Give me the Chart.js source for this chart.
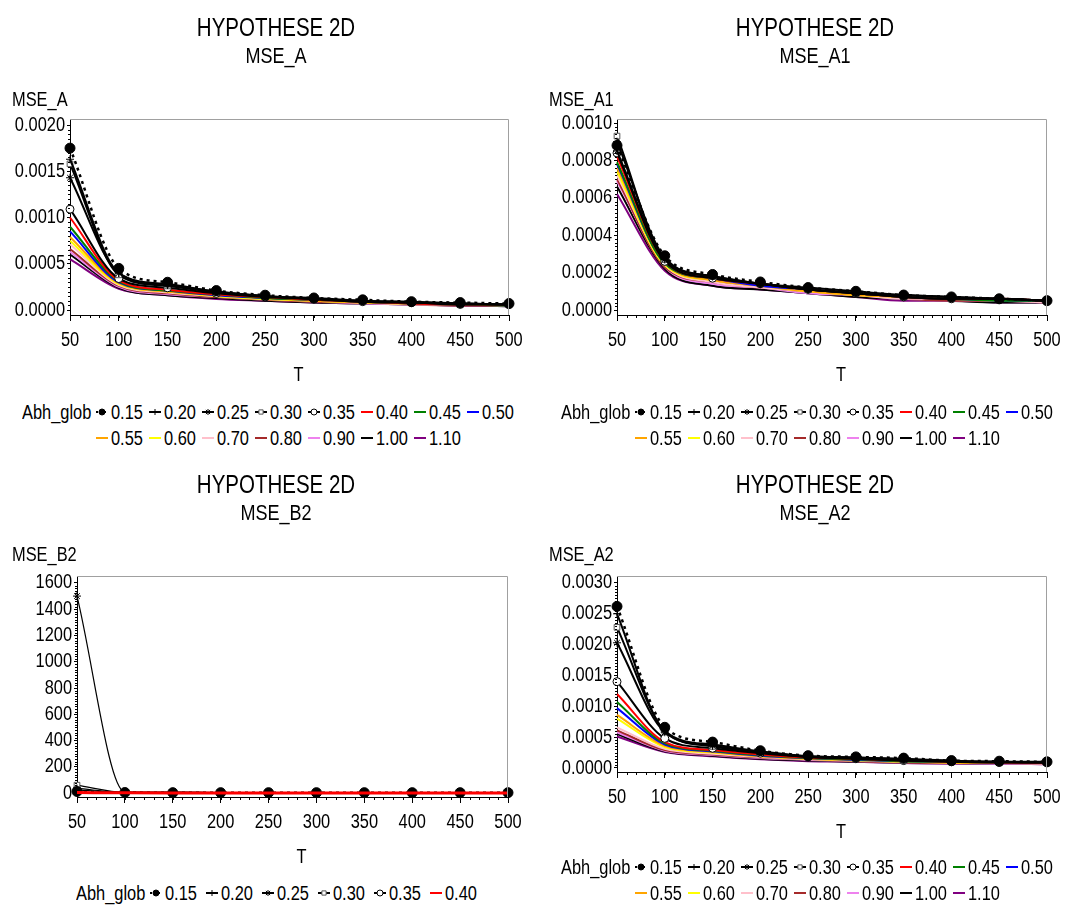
<!DOCTYPE html>
<html>
<head>
<meta charset="utf-8">
<script src="https://cdn.jsdelivr.net/npm/chart.js@4.4.0/dist/chart.umd.min.js"></script>
<style>
    body {
        margin: 0;
        width: 1080px;
        height: 906px;
        overflow: hidden;
        background: #fff;
        position: relative;
        font-family: 'Liberation Sans', Arial, sans-serif;
    }
    canvas.panel { position: absolute; }
    .legend { position: absolute; display: flex; font-size: 20px; line-height: 26px; color: #000; }
    .legend .lab { width: 73px; white-space: nowrap; }
    .legend .items { display: flex; flex-wrap: wrap; }
    .legend .item { display: flex; align-items: center; height: 26px; white-space: nowrap; }
    .legend .item canvas { margin-right: 2px; }
    /* SAS uses a narrow Arial; squeeze the text horizontally */
    .legend .narrow { display: inline-block; transform: scaleX(0.82); transform-origin: left center; }
</style>
</head>
<body>
<script>
// Data (x = T, one row per Abh_glob value)
const T = [50, 100, 150, 200, 250, 300, 350, 400, 450, 500];
const abhGlob = ['0.15', '0.20', '0.25', '0.30', '0.35', '0.40', '0.45', '0.50',
                 '0.55', '0.60', '0.70', '0.80', '0.90', '1.00', '1.10'];

const xTicks = [50, 100, 150, 200, 250, 300, 350, 400, 450, 500];
const yTicksA = [0, 0.0005, 0.0010, 0.0015, 0.0020];
const yTicksA1 = [0, 0.0002, 0.0004, 0.0006, 0.0008, 0.0010];
const yTicksB2 = [0, 200, 400, 600, 800, 1000, 1200, 1400, 1600];
const yTicksA2 = [0, 0.0005, 0.0010, 0.0015, 0.0020, 0.0025, 0.0030];

const mseA = [
    [0.00175, 0.00045, 0.00030, 0.00021, 0.00016, 0.00013, 0.00011, 0.00009, 0.00008, 0.00007], // 0.15
    [0.00163, 0.00040, 0.00027, 0.00020, 0.00015, 0.00013, 0.00010, 0.00009, 0.00007, 0.00006], // 0.20
    [0.00143, 0.00040, 0.00028, 0.00020, 0.00015, 0.00012, 0.00010, 0.00008, 0.00007, 0.00006], // 0.25
    [0.00158, 0.00038, 0.00026, 0.00019, 0.00015, 0.00012, 0.00009, 0.00008, 0.00007, 0.00006], // 0.30
    [0.00109, 0.00034, 0.00024, 0.00018, 0.00014, 0.00012, 0.00009, 0.00008, 0.00006, 0.00006], // 0.35
    [0.00100, 0.00032, 0.00022, 0.00017, 0.00014, 0.00011, 0.00009, 0.00007, 0.00006, 0.00006], // 0.40
    [0.00090, 0.00031, 0.00021, 0.00017, 0.00013, 0.00011, 0.00009, 0.00007, 0.00006, 0.00005], // 0.45
    [0.00085, 0.00030, 0.00021, 0.00016, 0.00013, 0.00011, 0.00009, 0.00007, 0.00006, 0.00005], // 0.50
    [0.00079, 0.00029, 0.00020, 0.00016, 0.00013, 0.00010, 0.00008, 0.00007, 0.00006, 0.00005], // 0.55
    [0.00075, 0.00028, 0.00020, 0.00015, 0.00012, 0.00010, 0.00008, 0.00007, 0.00006, 0.00005], // 0.60
    [0.00071, 0.00027, 0.00019, 0.00015, 0.00012, 0.00010, 0.00008, 0.00006, 0.00006, 0.00005], // 0.70
    [0.00066, 0.00026, 0.00018, 0.00014, 0.00011, 0.00009, 0.00008, 0.00006, 0.00005, 0.00005], // 0.80
    [0.00063, 0.00025, 0.00017, 0.00014, 0.00011, 0.00009, 0.00007, 0.00006, 0.00005, 0.00005], // 0.90
    [0.00060, 0.00024, 0.00016, 0.00013, 0.00010, 0.00008, 0.00007, 0.00006, 0.00005, 0.00004], // 1.00
    [0.00055, 0.00023, 0.00016, 0.00012, 0.00010, 0.00008, 0.00007, 0.00006, 0.00005, 0.00004]  // 1.10
];

const mseA1 = [
    [0.00088, 0.00029, 0.00019, 0.00015, 0.00012, 0.00010, 0.00008, 0.00007, 0.00006, 0.00005],
    [0.00090, 0.00028, 0.00018, 0.00014, 0.00012, 0.00010, 0.00008, 0.00007, 0.00006, 0.00005],
    [0.00085, 0.00027, 0.00018, 0.00014, 0.00011, 0.00009, 0.00008, 0.00007, 0.00006, 0.00005],
    [0.00093, 0.00027, 0.00018, 0.00014, 0.00011, 0.00009, 0.00007, 0.00006, 0.00006, 0.00005],
    [0.00084, 0.00026, 0.00017, 0.00014, 0.00011, 0.00009, 0.00007, 0.00006, 0.00006, 0.00005],
    [0.00082, 0.00026, 0.00017, 0.00014, 0.00011, 0.00009, 0.00007, 0.00006, 0.00006, 0.00005],
    [0.00079, 0.00025, 0.00017, 0.00014, 0.00011, 0.00009, 0.00007, 0.00006, 0.00005, 0.00005],
    [0.00078, 0.00025, 0.00017, 0.00013, 0.00011, 0.00009, 0.00007, 0.00006, 0.00005, 0.00005],
    [0.00076, 0.00025, 0.00016, 0.00013, 0.00010, 0.00008, 0.00007, 0.00006, 0.00005, 0.00005],
    [0.00074, 0.00024, 0.00016, 0.00013, 0.00010, 0.00008, 0.00007, 0.00006, 0.00005, 0.00005],
    [0.00072, 0.00024, 0.00015, 0.00012, 0.00010, 0.00008, 0.00006, 0.00006, 0.00005, 0.00004],
    [0.00070, 0.00023, 0.00015, 0.00012, 0.00010, 0.00008, 0.00006, 0.00005, 0.00005, 0.00004],
    [0.00069, 0.00023, 0.00014, 0.00012, 0.00009, 0.00008, 0.00006, 0.00005, 0.00005, 0.00004],
    [0.00066, 0.00022, 0.00013, 0.00011, 0.00009, 0.00007, 0.00006, 0.00005, 0.00004, 0.00004],
    [0.00062, 0.00021, 0.00013, 0.00011, 0.00009, 0.00007, 0.00005, 0.00005, 0.00004, 0.00004]
];

// MSE_B2 only carries the first six Abh_glob values
const mseB2 = [
    [12, 4, 3, 3, 3, 3, 3, 3, 3, 3],
    [35, 6, 10, 4, 3, 3, 3, 3, 3, 3],
    [1500, 8, 4, 3, 3, 3, 3, 3, 3, 3],
    [60, 5, 4, 3, 3, 3, 3, 3, 3, 3],
    [25, 5, 4, 3, 3, 3, 3, 3, 3, 3],
    [4, 2, 1, 1, 1, 1, 1, 1, 1, 1]
];

const mseA2 = [
    [0.00262, 0.00066, 0.00042, 0.00028, 0.00020, 0.00018, 0.00016, 0.00012, 0.00011, 0.00010],
    [0.00250, 0.00060, 0.00038, 0.00027, 0.00019, 0.00017, 0.00015, 0.00012, 0.00010, 0.00010],
    [0.00203, 0.00058, 0.00036, 0.00026, 0.00019, 0.00017, 0.00014, 0.00011, 0.00010, 0.00009],
    [0.00228, 0.00060, 0.00035, 0.00026, 0.00018, 0.00016, 0.00012, 0.00011, 0.00010, 0.00009],
    [0.00140, 0.00048, 0.00032, 0.00024, 0.00018, 0.00015, 0.00012, 0.00010, 0.00009, 0.00009],
    [0.00120, 0.00042, 0.00029, 0.00022, 0.00017, 0.00015, 0.00012, 0.00010, 0.00009, 0.00008],
    [0.00107, 0.00040, 0.00028, 0.00021, 0.00016, 0.00014, 0.00011, 0.00010, 0.00009, 0.00008],
    [0.00097, 0.00038, 0.00027, 0.00020, 0.00016, 0.00013, 0.00011, 0.00010, 0.00009, 0.00008],
    [0.00086, 0.00036, 0.00026, 0.00019, 0.00015, 0.00013, 0.00011, 0.00009, 0.00008, 0.00008],
    [0.00080, 0.00034, 0.00025, 0.00019, 0.00015, 0.00012, 0.00010, 0.00009, 0.00008, 0.00008],
    [0.00066, 0.00031, 0.00023, 0.00018, 0.00014, 0.00012, 0.00010, 0.00009, 0.00008, 0.00007],
    [0.00061, 0.00029, 0.00022, 0.00017, 0.00014, 0.00011, 0.00009, 0.00008, 0.00008, 0.00007],
    [0.00058, 0.00028, 0.00021, 0.00016, 0.00013, 0.00011, 0.00009, 0.00008, 0.00007, 0.00007],
    [0.00055, 0.00027, 0.00020, 0.00015, 0.00012, 0.00010, 0.00009, 0.00008, 0.00007, 0.00007],
    [0.00051, 0.00026, 0.00019, 0.00014, 0.00011, 0.00010, 0.00008, 0.00007, 0.00007, 0.00006]
];

// Series styling (SAS default symbol set)
const lineColors = ['#000000', '#000000', '#000000', '#000000', '#000000', '#ff0000', '#008000', '#0000ff',
                    '#ffa500', '#ffff00', '#ffc0cb', '#a52a2a', '#ee82ee', '#000000', '#800080'];
const markers = ['circle', 'cross', 'star', 'rect', 'circle'];

const FONT = "'Liberation Sans', Arial, sans-serif";
const SQUEEZE = 0.82;

// No Arial Narrow in the sandbox: compress canvas text around its anchor point
const baseFillText = CanvasRenderingContext2D.prototype.fillText;
const baseMeasureText = CanvasRenderingContext2D.prototype.measureText;
CanvasRenderingContext2D.prototype.fillText = function (text, x, y, maxWidth) {
    this.save();
    this.translate(x, y);
    this.scale(SQUEEZE, 1);
    baseFillText.call(this, text, 0, 0);
    this.restore();
};
CanvasRenderingContext2D.prototype.measureText = function (text) {
    const m = baseMeasureText.call(this, text);
    return {
        width: m.width * SQUEEZE,
        actualBoundingBoxAscent: m.actualBoundingBoxAscent,
        actualBoundingBoxDescent: m.actualBoundingBoxDescent
    };
};

// yW = left axis width, rW = empty right axis width (keeps the titles centred like SAS)
const panels = [
    { sub: 'MSE_A', values: mseA, yTicks: yTicksA, yMin: -0.000054, yMax: 0.002065, dec: 4, b2: false,
      left: 0, top: 0, w: 552, h: 390, padL: 0, yW: 70, rW: 43, yLabX: 12, yLabY: 100,
      legend: { left: 22, top: 399, cols: 8, itemW: 53 } },
    { sub: 'MSE_A1', values: mseA1, yTicks: yTicksA1, yMin: -0.0000267, yMax: 0.0010214, dec: 4, b2: false,
      left: 540, top: 0, w: 540, h: 390, padL: 10, yW: 67, rW: 33, yLabX: 9, yLabY: 100,
      legend: { left: 561, top: 399, cols: 8, itemW: 53 } },
    { sub: 'MSE_B2', values: mseB2, yTicks: yTicksB2, yMin: -30, yMax: 1653, dec: 0, b2: true,
      left: 0, top: 457, w: 552, h: 415, padL: 0, yW: 77, rW: 44, yLabX: 12, yLabY: 98,
      legend: { left: 76, top: 880, cols: 6, itemW: 56 } },
    { sub: 'MSE_A2', values: mseA2, yTicks: yTicksA2, yMin: -0.000065, yMax: 0.003113, dec: 4, b2: false,
      left: 540, top: 457, w: 540, h: 390, padL: 10, yW: 67, rW: 33, yLabX: 9, yLabY: 98,
      legend: { left: 561, top: 854, cols: 8, itemW: 53 } }
];

function seriesStyle(i, thin) {
    const style = {
        borderColor: lineColors[i],
        backgroundColor: lineColors[i],
        borderWidth: 2,
        pointRadius: 0,
        cubicInterpolationMode: 'monotone'
    };
    if (i < 5) {
        style.pointStyle = markers[i];
        style.pointRadius = i === 0 ? 5 : 4;
        style.pointBorderColor = i === 3 ? '#555' : '#000';
        style.pointBackgroundColor = i === 0 ? '#000' : '#fff';
        style.pointBorderWidth = 1;
        style.borderWidth = i === 0 ? 2.5 : (thin ? 1.2 : 2);
        if (i === 0) style.borderDash = [3, 4];
    }
    if (i === 5 && thin) style.borderWidth = 3;
    return style;
}

// gray frame, minor ticks, horizontal y label and the T axis label
const framePlugin = {
    id: 'frame',
    afterDraw(chart, args, opts) {
        const { ctx, chartArea: a, scales: { x, y } } = chart;
        ctx.save();
        ctx.strokeStyle = '#a0a0a0';
        ctx.lineWidth = 1;
        ctx.beginPath();
        ctx.moveTo(a.left, a.top + 0.5);
        ctx.lineTo(a.right - 0.5, a.top + 0.5);
        ctx.lineTo(a.right - 0.5, a.bottom);
        ctx.stroke();

        ctx.strokeStyle = '#000';
        ctx.beginPath();
        for (let v = 50; v <= 500; v += 10) {
            const px = Math.round(x.getPixelForValue(v)) + 0.5;
            ctx.moveTo(px, a.bottom);
            ctx.lineTo(px, a.bottom + 3);
        }
        const yt = opts.yTicks;
        for (let k = 0; k < yt.length - 1; k++) {
            const step = (yt[k + 1] - yt[k]) / 10;
            for (let j = 1; j < 10; j++) {
                const py = Math.round(y.getPixelForValue(yt[k] + step * j)) + 0.5;
                ctx.moveTo(a.left, py);
                ctx.lineTo(a.left - 2, py);
            }
        }
        ctx.stroke();

        ctx.fillStyle = '#000';
        ctx.font = '20px ' + FONT;
        ctx.textBaseline = 'middle';
        ctx.textAlign = 'left';
        ctx.fillText(opts.yLab, opts.yLabX, opts.yLabY);
        ctx.textAlign = 'center';
        ctx.fillText('T', (a.left + a.right) / 2 + 9, a.bottom + 60);
        ctx.restore();
    }
};

function buildLegend(p, n) {
    const box = document.createElement('div');
    box.className = 'legend';
    box.style.left = p.legend.left + 'px';
    box.style.top = p.legend.top + 'px';
    const lab = document.createElement('div');
    lab.className = 'lab';
    lab.innerHTML = '<span class="narrow">Abh_glob</span>';
    box.appendChild(lab);
    const items = document.createElement('div');
    items.className = 'items';
    items.style.width = (p.legend.cols * p.legend.itemW) + 'px';
    for (let i = 0; i < n; i++) {
        const item = document.createElement('div');
        item.className = 'item';
        item.style.width = p.legend.itemW + 'px';
        const sym = document.createElement('canvas');
        sym.width = 14;
        sym.height = 14;
        const c = sym.getContext('2d');
        const st = seriesStyle(i, false);
        c.strokeStyle = st.borderColor;
        c.lineWidth = 2;
        if (st.borderDash) c.setLineDash([2, 2]);
        c.beginPath();
        c.moveTo(1, 7);
        c.lineTo(13, 7);
        c.stroke();
        c.setLineDash([]);
        if (i < 5) {
            c.fillStyle = st.pointBackgroundColor;
            c.strokeStyle = st.pointBorderColor;
            c.lineWidth = 1;
            Chart.helpers.drawPoint(c, { pointStyle: st.pointStyle, radius: 3, rotation: 0, borderWidth: 1 }, 7, 7);
        }
        item.appendChild(sym);
        const txt = document.createElement('span');
        txt.className = 'narrow';
        txt.textContent = abhGlob[i];
        item.appendChild(txt);
        items.appendChild(item);
    }
    box.appendChild(items);
    document.body.appendChild(box);
}

panels.forEach(p => {
    const canvas = document.createElement('canvas');
    canvas.className = 'panel';
    canvas.width = p.w;
    canvas.height = p.h;
    canvas.style.left = p.left + 'px';
    canvas.style.top = p.top + 'px';
    document.body.appendChild(canvas);

    const n = p.values.length;
    // lower order is drawn on top; in MSE_B2 the red 0.40 line sits over the others
    const datasets = p.values.map((row, i) => Object.assign({
        label: abhGlob[i],
        data: T.map((t, k) => ({ x: t, y: row[k] })),
        order: (p.b2 && i === 5) ? -10 : i,
        clip: false
    }, seriesStyle(i, p.b2)));

    const tickFont = { family: FONT, size: 20 };

    new Chart(canvas, {
        type: 'line',
        data: { datasets },
        options: {
            responsive: false,
            animation: false,
            events: [],
            layout: { padding: { left: p.padL, right: 0, top: 0, bottom: 0 } },
            plugins: {
                legend: { display: false },
                tooltip: { enabled: false },
                title: {
                    display: true, text: 'HYPOTHESE 2D', color: '#000',
                    font: { family: FONT, size: 25, weight: 'normal' },
                    padding: { top: 14, bottom: 0 }
                },
                subtitle: {
                    display: true, text: p.sub, color: '#000',
                    font: { family: FONT, size: 22, weight: 'normal' },
                    padding: { top: 0, bottom: 48.6 }
                },
                frame: { yTicks: p.yTicks, yLab: p.sub, yLabX: p.yLabX, yLabY: p.yLabY }
            },
            scales: {
                x: {
                    type: 'linear',
                    min: 50,
                    max: 500,
                    afterBuildTicks: s => { s.ticks = xTicks.map(v => ({ value: v })); },
                    afterFit: s => { s.height = 75; },
                    ticks: { font: tickFont, color: '#000', padding: 7, maxRotation: 0, autoSkip: false,
                             callback: v => String(v) },
                    grid: { drawOnChartArea: false, drawTicks: true, tickLength: 6, color: '#000' },
                    border: { color: '#000' }
                },
                y: {
                    type: 'linear',
                    min: p.yMin,
                    max: p.yMax,
                    afterBuildTicks: s => { s.ticks = p.yTicks.map(v => ({ value: v })); },
                    afterFit: s => { s.width = p.yW; },
                    ticks: { font: tickFont, color: '#000', padding: 2,
                             callback: v => v.toFixed(p.dec) },
                    grid: { drawOnChartArea: false, drawTicks: true, tickLength: 3, color: '#000' },
                    border: { color: '#000' }
                },
                // blank right-hand axis, only reserves the margin
                yRight: {
                    type: 'linear',
                    position: 'right',
                    afterFit: s => { s.width = p.rW; },
                    ticks: { display: false },
                    grid: { display: false },
                    border: { display: false }
                }
            }
        },
        plugins: [framePlugin]
    });

    buildLegend(p, n);
});
</script>
</body>
</html>
